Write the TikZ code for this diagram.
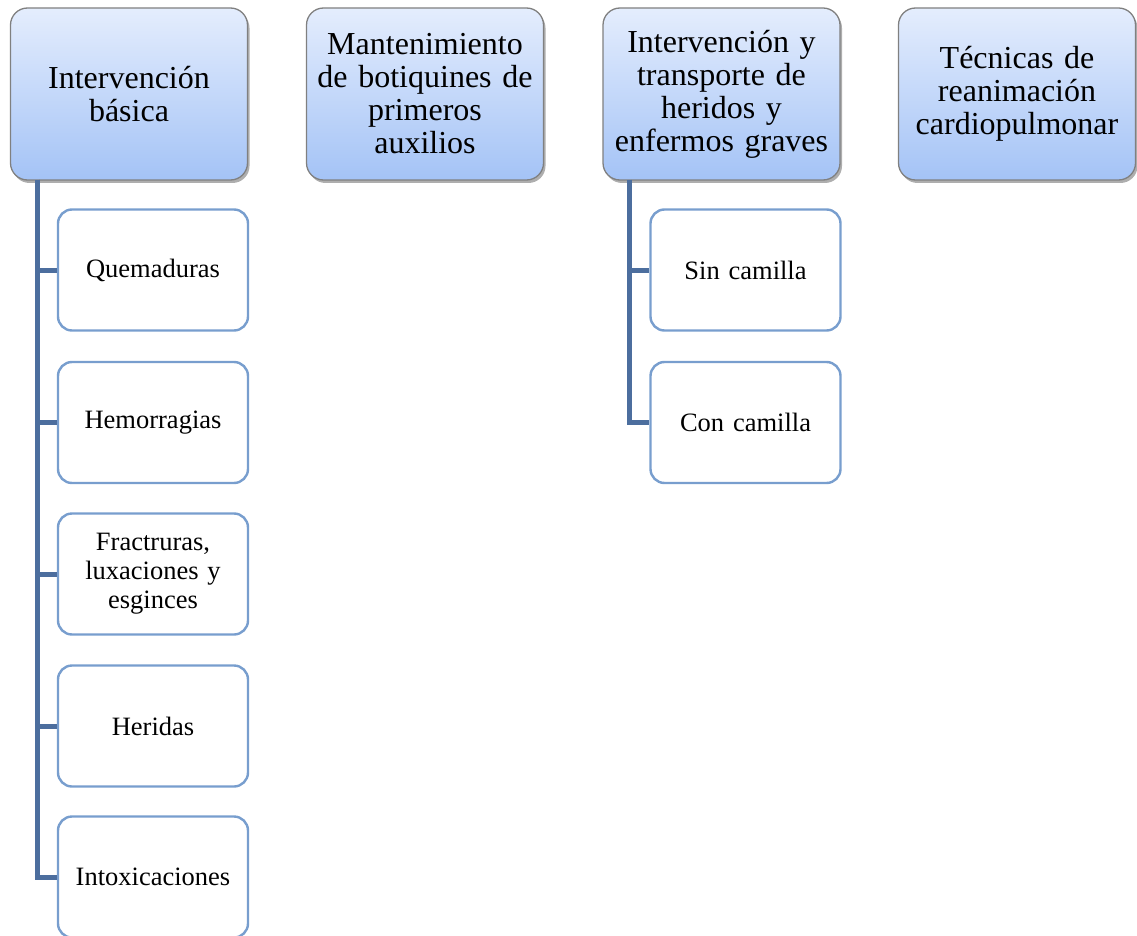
\documentclass[tikz,border=0pt]{standalone}
\usepackage{fontspec}
\setmainfont{Liberation Serif}[WordSpace=0.7]
\usetikzlibrary{shadows}
\definecolor{headtop}{RGB}{228,237,253}
\definecolor{headbot}{RGB}{164,195,246}
\definecolor{headline}{RGB}{128,128,128}
\definecolor{itemline}{RGB}{120,158,206}
\definecolor{trunk}{RGB}{76,110,158}
\tikzset{
  headbox/.style={draw=headline, line width=1.3pt, rounded corners=17pt,
    top color=headtop, bottom color=headbot,
    minimum width=237pt, minimum height=172pt, text width=229pt,
    align=center, inner sep=0pt,
    font=\fontsize{32}{33}\selectfont,
    drop shadow={shadow xshift=2pt, shadow yshift=-3pt, opacity=0.45, fill=black!70}},
  itembox/.style={draw=itemline, line width=2.4pt, rounded corners=14pt, fill=white,
    minimum width=190pt, minimum height=121pt, text width=184pt,
    align=center, inner sep=0pt,
    font=\fontsize{26.5}{29}\selectfont},
  conn/.style={draw=trunk, line width=5pt}
}
\begin{document}
\begin{tikzpicture}[x=1pt,y=-1pt]
  \useasboundingbox (0,0) rectangle (1137,936);
  \begin{scope}
    \clip (0,0) rectangle (1137,936);

    % trunk start points below the two categories that have sub-items
    \coordinate (t1) at (37,180);
    \coordinate (t3) at (629,180);

    % top-level categories
    \node[headbox] (b1) at (129,94) {Intervención\\básica};
    \node[headbox] (b2) at (425,94) {Mantenimiento\\de botiquines de\\primeros\\auxilios};
    \node[headbox] (b3) at (721.5,94) {Intervención y\\transporte de\\heridos y\\enfermos graves};
    \node[headbox] (b4) at (1017,94) {Técnicas de\\reanimación\\cardiopulmonar};

    % sub-items of the first category
    \node[itembox] (q) at (153,270) {Quemaduras};
    \node[itembox] (h) at (153,422.5) {Hemorragias};
    \node[itembox] (f) at (153,574) {Fractruras,\\luxaciones y\\esginces};
    \node[itembox] (w) at (153,726) {Heridas};
    \node[itembox] (i) at (153,877) {Intoxicaciones};

    % sub-items of the third category
    \node[itembox] (s) at (745.5,270) {Sin camilla};
    \node[itembox] (c) at (745.5,422.5) {Con camilla};

    % connectors
    \foreach \n in {q,h,f,w,i}{\draw[conn] (t1) |- (\n.west);}
    \foreach \n in {s,c}{\draw[conn] (t3) |- (\n.west);}
  \end{scope}
\end{tikzpicture}
\end{document}
